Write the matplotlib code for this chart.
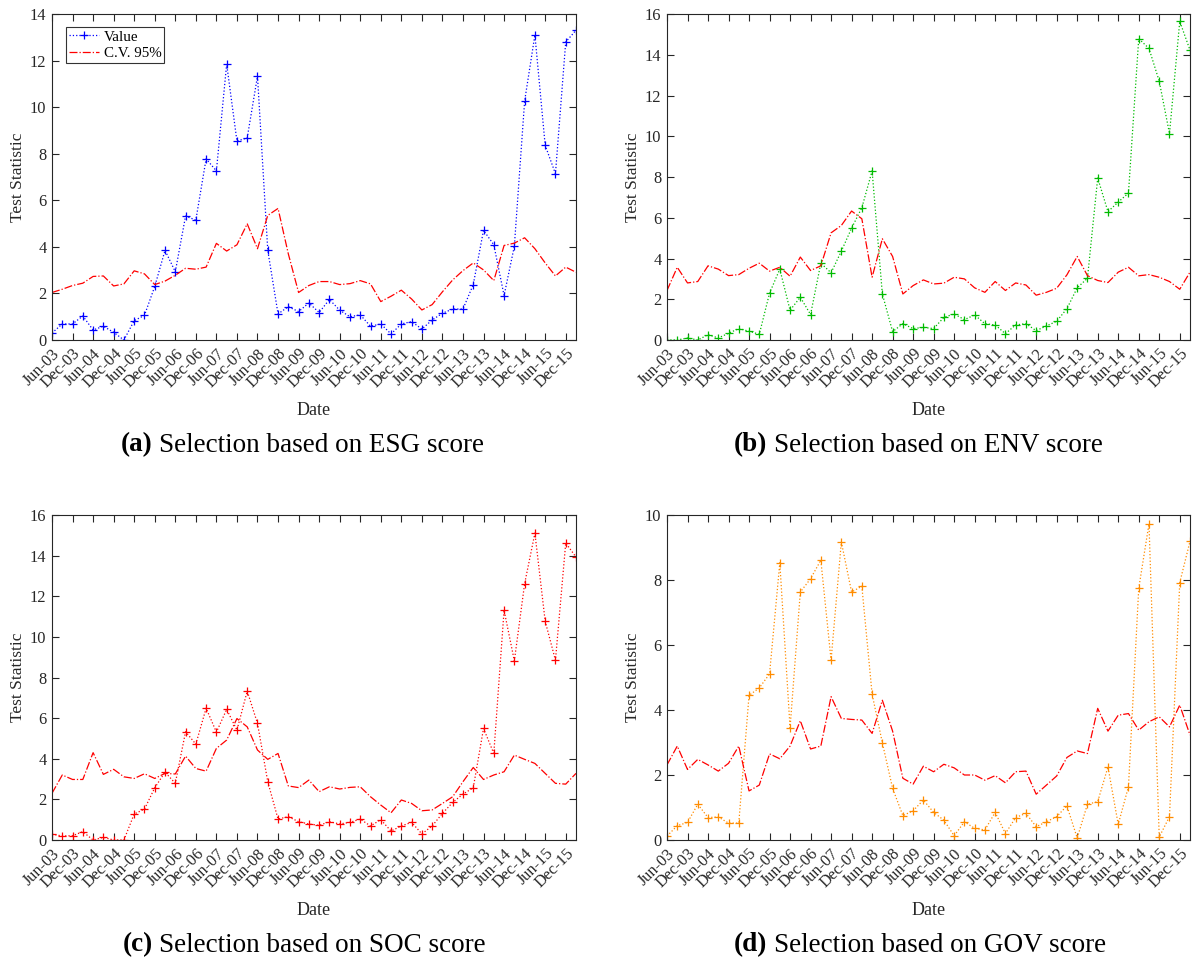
import matplotlib
matplotlib.use("Agg")
import matplotlib.pyplot as plt
import numpy as np

plt.rcParams['font.family'] = ['Liberation Serif', 'DejaVu Serif']
plt.rcParams['mathtext.fontset'] = 'stix'

# semi-annual tick labels, data is quarterly (Jun-03 .. Mar-16)
tick_labels = ['Jun-03', 'Dec-03', 'Jun-04', 'Dec-04', 'Jun-05', 'Dec-05',
               'Jun-06', 'Dec-06', 'Jun-07', 'Dec-07', 'Jun-08', 'Dec-08',
               'Jun-09', 'Dec-09', 'Jun-10', 'Dec-10', 'Jun-11', 'Dec-11',
               'Jun-12', 'Dec-12', 'Jun-13', 'Dec-13', 'Jun-14', 'Dec-14',
               'Jun-15', 'Dec-15']

esg_value = [0.30, 0.69, 0.69, 1.03, 0.43, 0.59, 0.33, 0.00, 0.83, 1.06,
             2.30, 3.85, 2.93, 5.32, 5.15, 7.78, 7.26, 11.85, 8.54, 8.68,
             11.33, 3.85, 1.12, 1.43, 1.22, 1.59, 1.18, 1.74, 1.28, 1.00,
             1.08, 0.59, 0.69, 0.26, 0.69, 0.79, 0.47, 0.86, 1.15, 1.33,
             1.33, 2.38, 4.71, 4.09, 1.91, 4.03, 10.26, 13.10, 8.36, 7.14,
             12.80, 13.30]
esg_cv = [2.04, 2.18, 2.34, 2.44, 2.73, 2.75, 2.32, 2.41, 2.97, 2.84,
          2.38, 2.53, 2.78, 3.08, 3.04, 3.13, 4.15, 3.82, 4.09, 4.99,
          3.92, 5.35, 5.65, 3.70, 2.04, 2.34, 2.51, 2.51, 2.38, 2.42,
          2.55, 2.41, 1.65, 1.88, 2.14, 1.76, 1.29, 1.52, 2.07, 2.58,
          2.98, 3.31, 3.01, 2.55, 4.06, 4.16, 4.39, 3.92, 3.31, 2.75,
          3.13, 2.91]

env_value = [0.00, 0.00, 0.10, 0.00, 0.26, 0.10, 0.33, 0.56, 0.43, 0.28,
             2.30, 3.48, 1.46, 2.10, 1.25, 3.77, 3.30, 4.36, 5.49, 6.49,
             8.30, 2.26, 0.41, 0.80, 0.56, 0.62, 0.56, 1.11, 1.28, 1.00,
             1.23, 0.80, 0.74, 0.31, 0.74, 0.80, 0.46, 0.69, 0.92, 1.54,
             2.56, 3.03, 7.95, 6.30, 6.77, 7.21, 14.79, 14.31, 12.70, 10.13,
             15.64, 14.23]
env_cv = [2.43, 3.57, 2.80, 2.87, 3.64, 3.48, 3.16, 3.21, 3.52, 3.77,
          3.38, 3.57, 3.13, 4.07, 3.41, 3.64, 5.26, 5.62, 6.33, 5.95,
          3.08, 4.97, 4.10, 2.26, 2.67, 2.95, 2.75, 2.79, 3.08, 3.00,
          2.56, 2.34, 2.87, 2.43, 2.80, 2.70, 2.20, 2.34, 2.54, 3.20,
          4.10, 3.16, 2.92, 2.82, 3.33, 3.57, 3.15, 3.21, 3.08, 2.87,
          2.49, 3.33]

soc_value = [0.28, 0.20, 0.21, 0.41, 0.00, 0.13, 0.00, 0.00, 1.28, 1.52,
             2.57, 3.34, 2.79, 5.33, 4.72, 6.49, 5.31, 6.43, 5.41, 7.33,
             5.74, 2.87, 1.03, 1.15, 0.90, 0.79, 0.72, 0.90, 0.79, 0.87,
             1.03, 0.69, 1.00, 0.44, 0.69, 0.87, 0.30, 0.69, 1.31, 1.85,
             2.26, 2.57, 5.49, 4.26, 11.31, 8.82, 12.62, 15.11, 10.77, 8.85,
             14.62, 13.93]
soc_cv = [2.30, 3.20, 2.98, 2.98, 4.30, 3.23, 3.48, 3.11, 3.03, 3.26,
          3.03, 3.28, 3.25, 4.13, 3.52, 3.39, 4.51, 4.92, 5.98, 5.57,
          4.43, 3.97, 4.26, 2.66, 2.58, 2.95, 2.38, 2.62, 2.51, 2.59,
          2.62, 2.13, 1.72, 1.34, 1.97, 1.80, 1.44, 1.48, 1.80, 2.13,
          2.87, 3.57, 2.98, 3.20, 3.36, 4.18, 3.97, 3.77, 3.28, 2.79,
          2.75, 3.28]

gov_value = [0.12, 0.44, 0.54, 1.10, 0.69, 0.71, 0.52, 0.52, 4.45, 4.68,
             5.11, 8.53, 3.45, 7.63, 8.04, 8.61, 5.53, 9.17, 7.63, 7.81,
             4.49, 2.99, 1.59, 0.75, 0.90, 1.23, 0.85, 0.61, 0.13, 0.56,
             0.36, 0.31, 0.85, 0.20, 0.69, 0.82, 0.41, 0.56, 0.72, 1.05,
             0.06, 1.10, 1.18, 2.25, 0.48, 1.64, 7.74, 9.73, 0.09, 0.72,
             7.92, 9.19]
gov_cv = [2.31, 2.89, 2.17, 2.48, 2.31, 2.12, 2.36, 2.89, 1.51, 1.69,
          2.65, 2.50, 2.89, 3.67, 2.80, 2.89, 4.41, 3.74, 3.71, 3.69,
          3.28, 4.30, 3.35, 1.90, 1.72, 2.27, 2.10, 2.33, 2.22, 2.00,
          2.00, 1.84, 1.98, 1.76, 2.10, 2.12, 1.41, 1.69, 1.97, 2.54,
          2.74, 2.66, 4.05, 3.35, 3.84, 3.89, 3.38, 3.64, 3.79, 3.48,
          4.15, 3.23]

dark = '#262626'
W, H = 1194, 964

fig = plt.figure(figsize=(W / 100, H / 100), dpi=100)

panels = [
    # (value, cv, color, ymax, tag, name, axes box in pixels: left, top, right, bottom)
    (esg_value, esg_cv, '#0000ff', 14, '(a)', 'ESG', (52, 14, 576, 340)),
    (env_value, env_cv, '#00bb00', 16, '(b)', 'ENV', (667, 14, 1190, 340)),
    (soc_value, soc_cv, '#ff0000', 16, '(c)', 'SOC', (52, 515, 576, 840)),
    (gov_value, gov_cv, '#ff8c00', 10, '(d)', 'GOV', (667, 515, 1190, 840)),
]

x = np.arange(len(esg_value))
tick_pos = np.arange(0, 2 * len(tick_labels), 2)

for value, cv, color, ymax, tag, name, box in panels:
    l, t, r, b = box
    ax = fig.add_axes([l / W, 1 - b / H, (r - l) / W, (b - t) / H])
    ax.plot(x, value, linestyle=':', color=color, linewidth=0.9,
            marker='+', markersize=6, markeredgewidth=0.9, label='Value')
    ax.plot(x, cv, linestyle='-.', color='#ff0000', linewidth=0.9,
            label='C.V. 95%')
    ax.set_xlim(0, len(x) - 1)
    ax.set_ylim(0, ymax)
    ax.set_yticks(np.arange(0, ymax + 1, 2))
    ax.set_xticks(tick_pos)
    ax.set_xticklabels(tick_labels, rotation=45, ha='right',
                       rotation_mode='anchor')
    ax.tick_params(direction='in', top=True, right=True, length=5,
                   width=0.8, colors=dark, labelsize=11.8, pad=4)
    for sp in ax.spines.values():
        sp.set_color(dark)
        sp.set_linewidth(0.8)
    ax.set_xlabel('Date', fontsize=13, color=dark, labelpad=8)
    ax.set_ylabel('Test Statistic', fontsize=12.5, color=dark, labelpad=3)

    if tag == '(a)':
        leg = ax.legend(loc='upper left', fontsize=10.8, frameon=True,
                        fancybox=False, edgecolor='black', handlelength=2.0,
                        handletextpad=0.3, borderpad=0.2, labelspacing=0.2,
                        borderaxespad=0, bbox_to_anchor=(0.027, 0.96))
        leg.get_frame().set_linewidth(0.8)

    # caption under each panel: bold tag followed by the description
    split = (l + r) / 2 - 161
    cy = 1 - (b + 105) / H
    fig.text(split / W, cy, tag, fontsize=19.5, fontweight='bold',
             ha='right', va='center')
    fig.text((split + 6) / W, cy, 'Selection based on %s score' % name,
             fontsize=19.5, ha='left', va='center')

fig.savefig('out.png', dpi=100)
